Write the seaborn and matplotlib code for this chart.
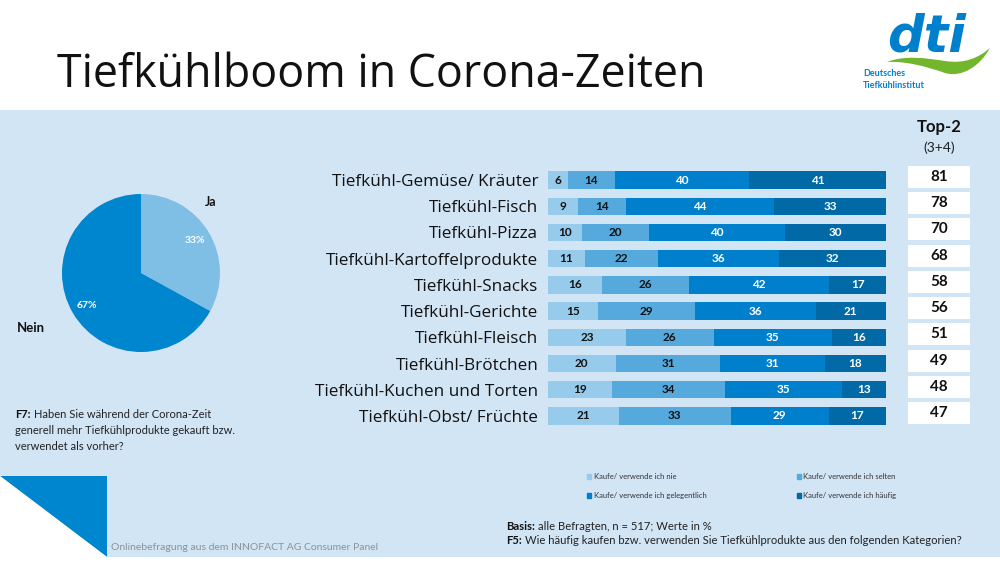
import numpy as np
import pandas as pd
import matplotlib
matplotlib.use("Agg")
import matplotlib.pyplot as plt
import seaborn as sns
from matplotlib.patches import Rectangle, Polygon, PathPatch, Patch
from matplotlib.path import Path

categories = ["Tiefkühl-Gemüse/ Kräuter", "Tiefkühl-Fisch", "Tiefkühl-Pizza",
              "Tiefkühl-Kartoffelprodukte", "Tiefkühl-Snacks", "Tiefkühl-Gerichte",
              "Tiefkühl-Fleisch", "Tiefkühl-Brötchen", "Tiefkühl-Kuchen und Torten",
              "Tiefkühl-Obst/ Früchte"]
nie = [6, 9, 10, 11, 16, 15, 23, 20, 19, 21]
selten = [14, 14, 20, 22, 26, 29, 26, 31, 34, 33]
gelegentlich = [40, 44, 40, 36, 42, 36, 35, 31, 35, 29]
haeufig = [41, 33, 30, 32, 17, 21, 16, 18, 13, 17]
top2 = [81, 78, 70, 68, 58, 56, 51, 49, 48, 47]
levels = ["Kaufe/ verwende ich nie", "Kaufe/ verwende ich selten",
          "Kaufe/ verwende ich gelegentlich", "Kaufe/ verwende ich häufig"]
pie_labels = ["Ja", "Nein"]
pie_values = [33, 67]

BLUES = ["#97CBEB", "#55A9DC", "#0080CC", "#0069A6"]
PANEL = "#D2E5F5"
MAIN = "Open Sans"
SMALL = "Lato"

sns.set_theme(style="white")
plt.rcParams["font.family"] = [MAIN, "DejaVu Sans"]

W, H = 1000, 563
fig = plt.figure(figsize=(W / 100, H / 100), dpi=100, facecolor="white")


def axes_px(x0, y0, x1, y1, **kw):
    # axes from pixel box, y counted from the top
    return fig.add_axes([x0 / W, 1 - y1 / H, (x1 - x0) / W, (y1 - y0) / H], **kw)


# background layer in pixel coordinates
bg = axes_px(0, 0, W, H, zorder=0)
bg.set_xlim(0, W)
bg.set_ylim(H, 0)
bg.axis("off")
bg.add_patch(Rectangle((0, 110), W, 447, color=PANEL, lw=0))
bg.add_patch(Polygon([(0, 476), (107, 476), (107, 557)], color="#0085CF", lw=0))
bg.add_patch(Polygon([(0, 476), (107, 557), (0, 557)], color="white", lw=0))

bg.text(57, 75, "Tiefkühlboom in Corona-Zeiten", fontsize=32.2, color="#111111",
        va="center", ha="left")

# logo
bg.text(927, 37, "dti", fontsize=37, fontweight="bold", style="italic", color="#0080CC",
        family="DejaVu Sans", ha="center", va="center")
swoosh = Path([(887, 62), (905, 55), (925, 58), (945, 61), (965, 64), (978, 58), (990, 48),
               (980, 66), (962, 78), (945, 73), (925, 66), (905, 61), (887, 62)],
              [Path.MOVETO] + [Path.CURVE4] * 12)
bg.add_patch(PathPatch(swoosh, facecolor="#72B62B", lw=0))
bg.text(863, 74, "Deutsches", fontsize=6.5, fontweight="bold", color="#0080CC",
        family=SMALL, va="center")
bg.text(863, 85, "Tiefkühlinstitut", fontsize=6.5, fontweight="bold", color="#0080CC",
        family=SMALL, va="center")

# stacked bars
df = pd.DataFrame({"kategorie": categories, levels[0]: nie, levels[1]: selten,
                   levels[2]: gelegentlich, levels[3]: haeufig})
long_df = df.melt(id_vars="kategorie", var_name="stufe", value_name="wert")

row_h = 26.22
ax = axes_px(548, 180 - row_h / 2, 886, 416 + row_h / 2, zorder=2)
ax.patch.set_alpha(0)
sns.histplot(data=long_df, y="kategorie", weights="wert", hue="stufe",
             hue_order=levels[::-1], palette=BLUES[::-1], multiple="fill",
             discrete=True, shrink=0.66, alpha=1, edgecolor="none", linewidth=0,
             legend=False, ax=ax)
ax.set_xlim(0, 1)
ax.set_ylim(9.5, -0.5)
ax.set_xlabel("")
ax.set_ylabel("")
ax.set_xticks([])
sns.despine(ax=ax, left=True, bottom=True)
ax.tick_params(axis="y", length=0, pad=7, labelsize=12.3, labelcolor="#111111")

# segment labels and top-2 boxes
table = df[levels].to_numpy(dtype=float)
shares = table / table.sum(axis=1, keepdims=True)
mids = shares.cumsum(axis=1) - shares / 2
for i in range(len(categories)):
    for j in range(len(levels)):
        ax.text(mids[i, j], i, str(int(table[i, j])), ha="center", va="center",
                fontsize=8.5, fontweight="bold", family=SMALL,
                color="#111111" if j < 2 else "white")
    yc = 177 + i * row_h
    bg.add_patch(Rectangle((908, yc - 11), 62, 22, color="white", lw=0))
    bg.text(939, yc, str(top2[i]), fontsize=11, fontweight="bold", family=SMALL,
            ha="center", va="center", color="#111111")

bg.text(939, 127, "Top-2", fontsize=12, fontweight="bold", family=SMALL, ha="center",
        va="center", color="#111111")
bg.text(939, 148, "(3+4)", fontsize=10, family=SMALL, ha="center", va="center",
        color="#222222")

# pie
pie_ax = axes_px(62, 194, 220, 352, zorder=2)
pie_ax.pie(pie_values, colors=["#7FBFE6", "#0085CF"], startangle=90, counterclock=False,
           radius=1, autopct="%d%%", pctdistance=0.8, wedgeprops=dict(linewidth=0),
           textprops=dict(color="white", fontsize=7.5, fontweight="bold", family=SMALL))
pie_ax.set_xlim(-1, 1)
pie_ax.set_ylim(-1, 1)
bg.text(211, 202, pie_labels[0], fontsize=9, fontweight="bold", family=SMALL,
        ha="center", va="center", color="#111111")
bg.text(31, 328, pie_labels[1], fontsize=9.5, fontweight="bold", family=SMALL,
        ha="center", va="center", color="#111111")

# notes
def note(x, y, head, rest, size):
    t = bg.text(x, y, head, fontsize=size, fontweight="bold", family=SMALL, va="center",
                color="#111111")
    fig.canvas.draw()
    x1 = t.get_window_extent().x1 * W / fig.bbox.width
    bg.text(x1 + 3, y, rest, fontsize=size, family=SMALL, va="center", color="#222222")


note(15, 415, "F7:", "Haben Sie während der Corona-Zeit", 8)
bg.text(15, 431, "generell mehr Tiefkühlprodukte gekauft bzw.", fontsize=8, family=SMALL,
        va="center", color="#222222")
bg.text(15, 446, "verwendet als vorher?", fontsize=8, family=SMALL, va="center",
        color="#222222")
note(506, 526, "Basis:", "alle Befragten, n = 517; Werte in %", 8.15)
note(506, 540, "F5:", "Wie häufig kaufen bzw. verwenden Sie Tiefkühlprodukte aus den folgenden Kategorien?", 8.15)
bg.text(111, 547, "Onlinebefragung aus dem INNOFACT AG Consumer Panel", fontsize=7.5,
        family=SMALL, va="center", color="#8A9299")

# legend, columns fill first so the order is swapped
handles = [Patch(color=BLUES[k], label=levels[k]) for k in (0, 2, 1, 3)]
fig.legend(handles=handles, ncol=2, loc="upper left", bbox_to_anchor=(581 / W, 1 - 467 / H),
           frameon=False, prop=dict(family=SMALL, size=5.5), handlelength=0.55, handleheight=0.6,
           handletextpad=0.3, columnspacing=11.85, labelspacing=1.55, labelcolor="#333333",
           borderpad=0.3)

fig.savefig("out.png", dpi=100, facecolor="white")
